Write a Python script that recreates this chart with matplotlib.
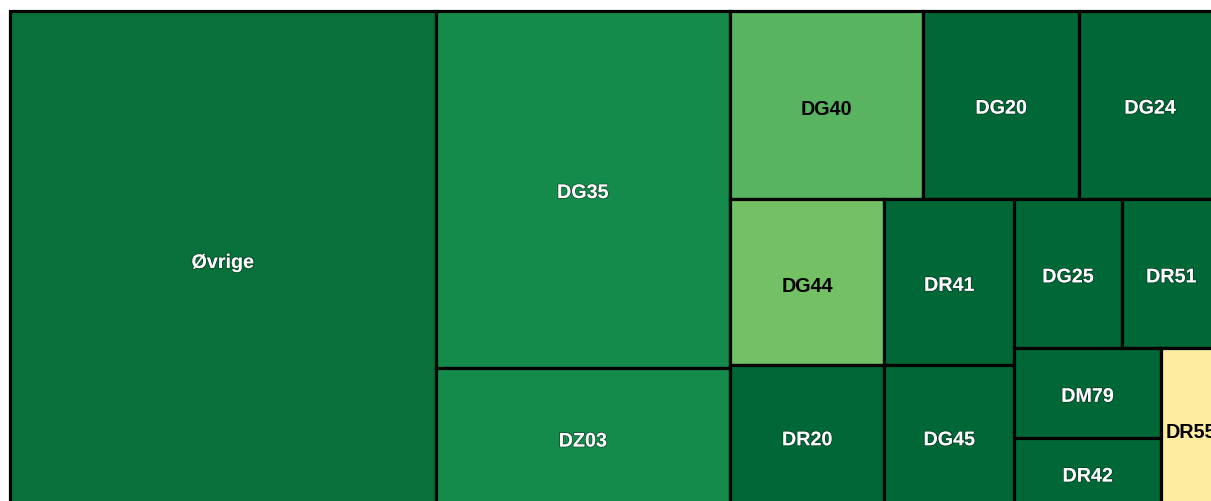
import matplotlib
matplotlib.use("Agg")
import matplotlib.pyplot as plt
import matplotlib.patches as mpatches
import matplotlib.patheffects as pe

plt.rcParams['font.family'] = ['Liberation Sans', 'DejaVu Sans']

# treemap data (area values)
names = ['Øvrige', 'DG35', 'DZ03', 'DG40', 'DG20', 'DG24', 'DG44', 'DR20',
         'DR41', 'DG45', 'DG25', 'DR51', 'DM79', 'DR42', 'DR55']
values = [212.8, 105.4, 41.3, 36.5, 29.5, 26.8, 25.8, 22.1,
          21.7, 18.6, 16.1, 14.9, 13.2, 10.3, 9.6]
colors = ['#08703b', '#148a4b', '#148a4b', '#58b461', '#006837', '#006837',
          '#74c165', '#006837', '#006837', '#006837', '#006837', '#006837',
          '#006837', '#006837', '#feeca0']
dark_text = ['DG40', 'DG44', 'DR55']

# how the tiles are nested ('h' = side by side, 'v' = stacked)
layout = ('h', ['Øvrige',
                ('v', ['DG35', 'DZ03']),
                ('v', [('h', ['DG40', 'DG20', 'DG24']),
                       ('h', [('v', ['DG44', 'DR20']),
                              ('v', ['DR41', 'DG45']),
                              ('v', [('h', ['DG25', 'DR51']),
                                     ('h', [('v', ['DM79', 'DR42']), 'DR55'])])])])])

val = dict(zip(names, values))
col = dict(zip(names, colors))


def total(node):
    if isinstance(node, str):
        return val[node]
    return sum(total(c) for c in node[1])


rects = {}


def place(node, x, y, w, h):
    if isinstance(node, str):
        rects[node] = (x, y, w, h)
        return
    d, kids = node
    s = total(node)
    for k in kids:
        f = total(k) / s
        if d == 'h':
            place(k, x, y, w * f, h)
            x += w * f
        else:
            place(k, x, y, w, h * f)
            y += h * f


W, H = 1211.5, 497.0
place(layout, 0, 0, W, H)

fig = plt.figure(figsize=(12.11, 5.02), dpi=100)
ax = fig.add_axes([9.5 / 1211, (502 - 508.5) / 502, W / 1211, H / 502])
ax.set_xlim(0, W)
ax.set_ylim(H, 0)
ax.axis('off')

for n in names:
    x, y, w, h = rects[n]
    ax.add_patch(mpatches.Rectangle((x, y), w, h, facecolor=col[n],
                                    edgecolor='black', linewidth=2.3,
                                    clip_on=False))
    if n in dark_text:
        ax.text(x + w / 2, y + h / 2 + 3.5, n, ha='center', va='center',
                fontsize=14.2, fontweight='bold', color='black')
    else:
        ax.text(x + w / 2, y + h / 2 + 3.5, n, ha='center', va='center',
                fontsize=14.2, fontweight='bold', color='white',
                path_effects=[pe.withStroke(linewidth=1.2, foreground='#00000066')])

fig.savefig('out.png', dpi=100)
